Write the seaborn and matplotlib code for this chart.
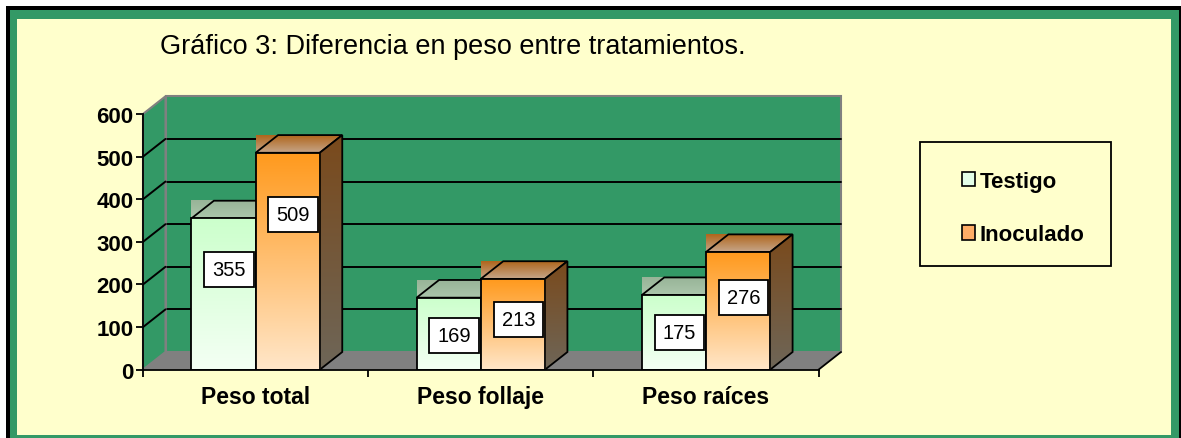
import numpy as np
import pandas as pd
import seaborn as sns
import matplotlib
matplotlib.use('Agg')
import matplotlib.pyplot as plt
from matplotlib.patches import Polygon, Rectangle, Patch
from matplotlib.transforms import IdentityTransform
from matplotlib.colors import to_rgb

categorias = ['Peso total', 'Peso follaje', 'Peso raíces']
tratamientos = ['Testigo', 'Inoculado']
testigo = [355, 169, 175]
inoculado = [509, 213, 276]
y_ticks = [0, 100, 200, 300, 400, 500, 600]
titulo = 'Gráfico 3: Diferencia en peso entre tratamientos.'

W, H = 1181, 439
DX, DY = 22.5, 17.7
VERDE = '#339966'
AMARILLO = '#ffffcc'
GRIS = '#808080'

# gradientes (arriba, abajo) para frente, tapa y lado de cada serie
estilos = {
    'Testigo': dict(front=('#ccffcc', '#f4fff4'), top=('#98b498', '#abc6ab'),
                    side=('#7f997f', '#6f806f'), legend='#e4ffe8'),
    'Inoculado': dict(front=('#ff9a1e', '#ffe6c8'), top=('#b0661c', '#c6a68a'),
                      side=('#7a4a1c', '#6e6658'), legend='#ffad66'),
}


def fig_rect(fig, x0, y0, x1, y1, z, fc='none', ec='none', lw=0):
    # coordenadas en pixeles, y desde arriba
    fig.add_artist(Rectangle((x0 / W, 1 - y1 / H), (x1 - x0) / W, (y1 - y0) / H,
                             transform=fig.transFigure, facecolor=fc, edgecolor=ec,
                             lw=lw, zorder=z))


def gradiente(ax, verts, colores, z, clip_patch=None, outline=True):
    verts = np.asarray(verts)
    x0, y0 = verts.min(axis=0)
    x1, y1 = verts.max(axis=0)
    c0, c1 = np.array(to_rgb(colores[0])), np.array(to_rgb(colores[1]))
    t = np.linspace(0, 1, 64)[:, None, None]
    img = c0 * (1 - t) + c1 * t
    im = ax.imshow(img, extent=(x0, x1, y0, y1), origin='upper', aspect='auto',
                   interpolation='bilinear', transform=IdentityTransform(), zorder=z)
    if clip_patch is not None:
        im.set_clip_path(clip_patch)
    if outline:
        ax.add_patch(Polygon(verts, closed=True, transform=IdentityTransform(),
                             facecolor='none', edgecolor='black', lw=1.3, zorder=z + 0.05))


df = pd.DataFrame({
    'categoria': categorias * 2,
    'tratamiento': [tratamientos[0]] * 3 + [tratamientos[1]] * 3,
    'peso': testigo + inoculado,
})

sns.set_theme(style='white')
plt.rcParams['font.family'] = ['Liberation Sans', 'DejaVu Sans']
for k in ['text.color', 'axes.labelcolor', 'xtick.color', 'ytick.color']:
    plt.rcParams[k] = 'black'

fig = plt.figure(figsize=(W / 100, H / 100), dpi=100, facecolor='white')
fig_rect(fig, 6, 7, 1181, 439, -10, fc='black')
fig_rect(fig, 10, 11, 1179, 439, -9, fc=VERDE)
fig_rect(fig, 17, 20, 1171, 436, -8, fc=AMARILLO)

ax = fig.add_axes([143 / W, 1 - 370.7 / H, (818.5 - 143) / W, (370.7 - 115) / H])
ax.set_facecolor('none')

sns.barplot(data=df, x='categoria', y='peso', hue='tratamiento', order=categorias,
            hue_order=tratamientos, width=0.57, ax=ax, legend=False,
            palette=[estilos[t]['front'][0] for t in tratamientos])
ax.set_xlim(-0.5, 2.5)
ax.set_ylim(0, 600)

T = ax.transData.transform
# pared del fondo, pared lateral y piso
xl, yb = T((-0.5, 0))
xr, yt = T((2.5, 600))
ax.add_patch(Polygon([(xl + DX, yb + DY), (xr + DX, yb + DY), (xr + DX, yt + DY), (xl + DX, yt + DY)],
                     transform=IdentityTransform(), facecolor=VERDE, edgecolor=GRIS,
                     lw=1.5, zorder=1, clip_on=False))
ax.add_patch(Polygon([(xl, yb), (xl + DX, yb + DY), (xl + DX, yt + DY), (xl, yt)],
                     transform=IdentityTransform(), facecolor=VERDE, edgecolor=GRIS,
                     lw=1.5, zorder=2, clip_on=False))
for v in y_ticks[1:-1]:
    _, yv = T((0, v))
    ax.plot([xl + DX, xr + DX], [yv + DY, yv + DY], color='black', lw=1.4,
            transform=IdentityTransform(), zorder=1.5, clip_on=False)
    ax.plot([xl, xl + DX], [yv, yv + DY], color='black', lw=1.4,
            transform=IdentityTransform(), zorder=2.5, clip_on=False)
ax.add_patch(Polygon([(xl, yb), (xr, yb), (xr + DX, yb + DY), (xl + DX, yb + DY)],
                     transform=IdentityTransform(), facecolor=GRIS, edgecolor='none',
                     zorder=3, clip_on=False))
ax.plot([xr, xr + DX], [yb, yb + DY], color='black', lw=1.3,
        transform=IdentityTransform(), zorder=3.5, clip_on=False)

# barras en 3D
barras = []
for cont, trat in zip(ax.containers, tratamientos):
    for p in cont.patches:
        barras.append((p.get_x(), p, trat))
barras.sort(key=lambda b: b[0])

for k, (_, p, trat) in enumerate(barras):
    est = estilos[trat]
    base = 10 + 3 * k
    bl, bb = T((p.get_x(), 0))
    br, bt = T((p.get_x() + p.get_width(), p.get_height()))
    tapa = [(bl, bt), (br, bt), (br + DX, bt + DY), (bl + DX, bt + DY)]
    gradiente(ax, tapa, est['top'], base)
    lado = [(br, bb), (br + DX, bb + DY), (br + DX, bt + DY), (br, bt)]
    gradiente(ax, lado, est['side'], base + 1, clip_patch=Polygon(lado, transform=IdentityTransform()))
    p.set_facecolor('none')
    p.set_edgecolor('black')
    p.set_linewidth(1.3)
    p.set_zorder(base + 2.1)
    gradiente(ax, [(bl, bb), (br, bb), (br, bt), (bl, bt)], est['front'], base + 2,
              clip_patch=p, outline=False)
    v = p.get_height()
    ax.annotate(f'{v:.0f}', xy=(p.get_x() + p.get_width() / 2, 0.83 * v - 59),
                xytext=(4, 0), textcoords='offset points', ha='center', va='center',
                fontsize=14.5, color='black', zorder=200,
                bbox=dict(boxstyle='square,pad=0.4', fc='white', ec='black', lw=1.3))

ax.set_xlim(-0.5, 2.5)
ax.set_ylim(0, 600)

# ejes
ax.set_xlabel('')
ax.set_ylabel('')
for s in ['top', 'right']:
    ax.spines[s].set_visible(False)
for s in ['left', 'bottom']:
    ax.spines[s].set_color('black')
    ax.spines[s].set_linewidth(1.3)
    ax.spines[s].set_zorder(300)
ax.set_yticks(y_ticks)
ax.set_yticklabels([str(v) for v in y_ticks], fontsize=16, fontweight='bold')
ax.tick_params(axis='y', length=5, width=1.3, color='black', pad=2, left=True)
ax.set_xticks(range(len(categorias)))
ax.set_xticklabels(categorias, fontsize=16.5, fontweight='bold')
ax.set_xticks([-0.5, 0.5, 1.5, 2.5], minor=True)
ax.tick_params(axis='x', which='major', length=0, pad=11)
ax.tick_params(axis='x', which='minor', length=5, width=1.3, color='black', bottom=True)

fig.text(160 / W, 1 - 47 / H, titulo, ha='left', va='center', fontsize=19.5, color='black')

# leyenda
fig_rect(fig, 920, 143, 1111, 267, 5, ec='black', lw=1.3)
handles = [Patch(facecolor=estilos[t]['legend'], edgecolor='black', lw=1.2) for t in tratamientos]
fig.legend(handles, tratamientos, loc='upper left', bbox_to_anchor=(951 / W, 1 - 161 / H),
           frameon=False, borderpad=0, labelspacing=1.45, handlelength=0.6,
           handleheight=0.6, handletextpad=0.2, prop=dict(size=16, weight='bold'))

fig.savefig('out.png', dpi=100, facecolor='white')
